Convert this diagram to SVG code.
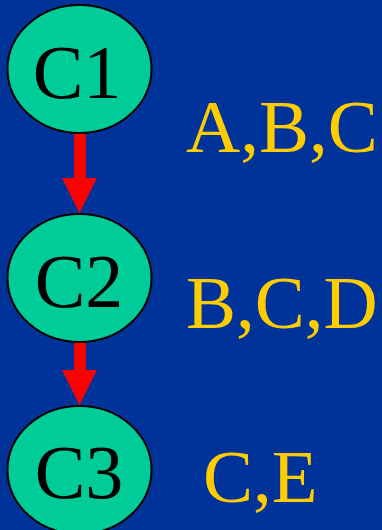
<svg xmlns="http://www.w3.org/2000/svg" width="382" height="530" viewBox="0 0 382 530">
<style>
.node{fill:#00CC99;stroke:#000;stroke-width:2}
.nt{font-family:"Liberation Serif",serif;font-size:76px;fill:#000;text-anchor:middle}
.lbl{font-family:"Liberation Serif",serif;font-size:75px;fill:#FFCC00}
.arr{fill:#FF0000}
</style>
<rect width="382" height="530" fill="#003399"/>
<g id="connectors">
<polygon class="arr" points="74,133 86,133 86,178 97,178 79.5,213 62,178 74,178"/>
<polygon class="arr" points="74,342 86,342 86,370 97,370 79.5,405 62,370 74,370"/>
</g>
<g id="C1"><ellipse class="node" cx="79.5" cy="69" rx="72" ry="64"/><text class="nt" x="77" y="98">C1</text></g>
<g id="C2"><ellipse class="node" cx="79.5" cy="278" rx="72" ry="64"/><text class="nt" x="79" y="307">C2</text></g>
<g id="C3"><ellipse class="node" cx="79.5" cy="470" rx="72" ry="64"/><text class="nt" x="79" y="498">C3</text></g>
<g id="labels">
<text class="lbl" x="186" y="152">A,B,C</text>
<text class="lbl" x="186" y="328">B,C,D</text>
<text class="lbl" x="203" y="502">C,E</text>
</g>
</svg>
